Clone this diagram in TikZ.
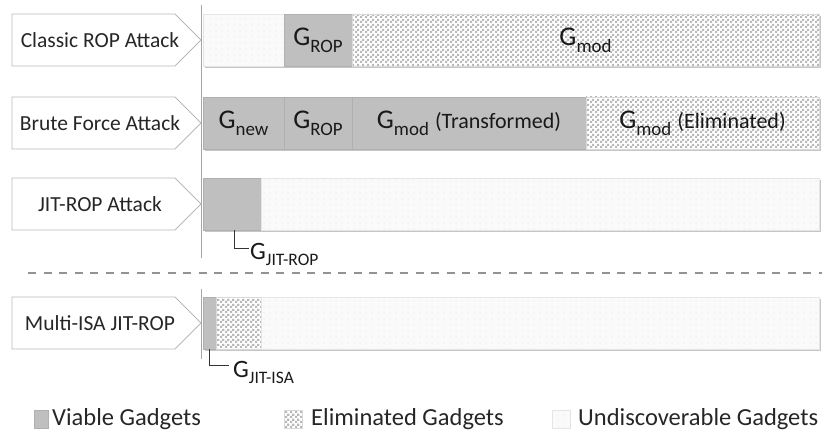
\documentclass[tikz,border=0pt]{standalone}
\usepackage{fontspec}
\setmainfont{Carlito}
\usepackage{graphicx}
\usetikzlibrary{positioning,patterns}

% fill patterns for the gadget classes
\pgfdeclarepatternformonly{checker}{\pgfqpoint{0pt}{0pt}}{\pgfqpoint{5pt}{5pt}}{\pgfqpoint{5pt}{5pt}}{%
  \pgfpathrectangle{\pgfpointorigin}{\pgfqpoint{2.5pt}{2.5pt}}%
  \pgfpathrectangle{\pgfqpoint{2.5pt}{2.5pt}}{\pgfqpoint{2.5pt}{2.5pt}}%
  \pgfusepath{fill}}
\pgfdeclarepatternformonly{sparsedots}{\pgfqpoint{-1pt}{-1pt}}{\pgfqpoint{1pt}{1pt}}{\pgfqpoint{6pt}{6pt}}{%
  \pgfpathcircle{\pgfpointorigin}{0.5pt}\pgfusepath{fill}}

\newcommand{\gsub}[1]{G\raisebox{-0.27em}{\scalebox{0.7}{#1}}}

\begin{document}
\begin{tikzpicture}[x=1pt, y=-1pt,
    attack/.style = {inner sep=0pt, text=black!85, font=\fontsize{21.5}{23}\selectfont},
    attackbox/.style = {draw=gray!55, line width=0.8pt},
    seg/.style = {minimum height=52pt, inner sep=0pt, outer sep=0pt, line width=0.6pt,
                  font=\fontsize{27}{30}\selectfont, text=black!90},
    viable/.style = {seg, fill=gray!50, draw=gray!62},
    elim/.style = {seg, draw=gray!30, preaction={fill=white}, pattern=checker, pattern color=gray!55},
    undisc/.style = {seg, draw=gray!20, preaction={fill=gray!4}, pattern=sparsedots, pattern color=gray!30},
    key/.style = {minimum width=18pt, minimum height=18pt},
    legend/.style = {inner sep=0pt, text=black!85, font=\fontsize{24.5}{26}\selectfont},
    glabel/.style = {inner sep=0pt, text=black!90, font=\fontsize{25}{27}\selectfont},
    bracket/.style = {draw=black!80, line width=0.9pt},
    axis/.style = {draw=gray!70, line width=0.8pt},
    sep/.style = {draw=gray!85, line width=1.5pt, dash pattern=on 8pt off 7.5pt}]
    \useasboundingbox (0,0) rectangle (827,433);

    % time axis
    \coordinate (ax1) at (201,5);
    \coordinate (ax2) at (201,258);
    \coordinate (ax3) at (201,289);
    \coordinate (ax4) at (201,359);
    \draw[axis] (ax1) -- (ax2);
    \draw[axis] (ax3) -- (ax4);

    % attacks
    \node[attack] (classic) at (100,40) {Classic ROP Attack};
    \node[attack] (brute) at (100,123) {Brute Force Attack};
    \node[attack] (jit) at (100,204) {JIT-ROP Attack};
    \node[attack] (multi) at (100,323) {Multi-ISA JIT-ROP};
    \foreach \n in {classic,brute,jit,multi}
        \draw[attackbox] ([shift={(-88,-26)}]\n.center) -- ++(163,0) -- ++(26,26)
            -- ++(-26,26) -- ++(-163,0) -- cycle;

    % bar shadows
    \foreach \t in {14,97,178,297}
        \fill[gray!45] (205,\t+2) rectangle (821,\t+54);

    % classic ROP
    \node[undisc, anchor=north west, minimum width=81pt] (c1) at (203,14) {};
    \node[viable, minimum width=68pt, right=0pt of c1] (c2) {\gsub{ROP}};
    \node[elim, minimum width=467pt, right=0pt of c2] (c3) {\gsub{mod}};

    % brute force
    \node[viable, anchor=north west, minimum width=81pt] (b1) at (203,97) {\gsub{new}};
    \node[viable, minimum width=68pt, right=0pt of b1] (b2) {\gsub{ROP}};
    \node[viable, minimum width=234pt, right=0pt of b2] (b3) {\gsub{mod} {\fontsize{22}{24}\selectfont(Transformed)}};
    \node[elim, minimum width=233pt, right=0pt of b3] (b4) {\gsub{mod} {\fontsize{22}{24}\selectfont(Eliminated)}};

    % JIT-ROP
    \node[viable, anchor=north west, minimum width=58pt] (j1) at (203,178) {};
    \node[undisc, minimum width=558pt, right=0pt of j1] (j2) {};

    \node[glabel, anchor=base west] (gjr) at (250,259) {\gsub{JIT-ROP}};
    \draw[bracket] ([xshift=2pt]j1.south) |- ([xshift=-1pt, yshift=11pt]gjr.base west);

    \coordinate (dl) at (28,273);
    \coordinate (dr) at (822,273);
    \draw[sep] (dl) -- (dr);

    % multi-ISA JIT-ROP
    \node[viable, anchor=north west, minimum width=13pt] (m1) at (203,297) {};
    \node[elim, minimum width=45pt, right=0pt of m1] (m2) {};
    \node[undisc, minimum width=558pt, right=0pt of m2] (m3) {};

    \node[glabel, anchor=base west] (gji) at (233,377) {\gsub{JIT-ISA}};
    \draw[bracket] (m1.south) |- ([xshift=-4pt, yshift=12pt]gji.base west);

    % legend
    \node[viable, key, minimum width=14pt] (kv) at (41,419) {};
    \node[legend, right=4pt of kv] (tv) {Viable Gadgets};
    \node[elim, key] (ke) at (293,419) {};
    \node[legend, right=9pt of ke] (te) {Eliminated Gadgets};
    \node[undisc, key] (ku) at (561,419) {};
    \node[legend, right=8pt of ku] (tu) {Undiscoverable Gadgets};
\end{tikzpicture}
\end{document}
